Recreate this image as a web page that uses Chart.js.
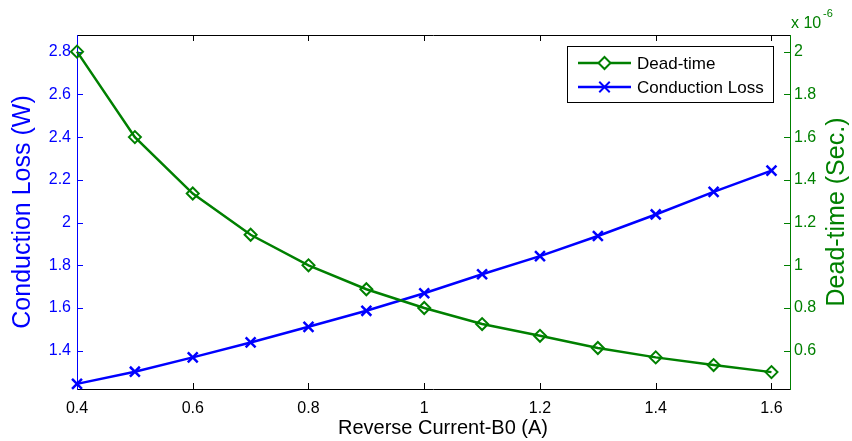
<!DOCTYPE html>
<html>
<head>
<meta charset="utf-8">
<script src="https://cdn.jsdelivr.net/npm/chart.js@4.4.0/dist/chart.umd.min.js"></script>
<style>
  html, body { margin: 0; padding: 0; background: #fff; }
  #wrap { width: 852px; height: 441px; }
</style>
</head>
<body>
<div id="wrap"><canvas id="lossChart" width="852" height="441"></canvas></div>
<script>
// values
const currents = [0.4, 0.5, 0.6, 0.7, 0.8, 0.9, 1.0, 1.1, 1.2, 1.3, 1.4, 1.5, 1.6];
const conductionLoss = [1.245, 1.302, 1.369, 1.439, 1.512, 1.587, 1.669, 1.758, 1.843, 1.937, 2.038, 2.144, 2.243];
const deadTime = [2.0, 1.6, 1.336, 1.143, 1.0, 0.888, 0.80, 0.725, 0.670, 0.613, 0.569, 0.533, 0.5]; // x 10^-6 s
const xTicks = [0.4, 0.6, 0.8, 1.0, 1.2, 1.4, 1.6];
const lossTicks = [1.4, 1.6, 1.8, 2.0, 2.2, 2.4, 2.6, 2.8];
const deadTicks = [0.6, 0.8, 1.0, 1.2, 1.4, 1.6, 1.8, 2.0];

const BLUE = "#0000ff";
const GREEN = "#008000";
const FONT = "'Liberation Sans', Arial, Helvetica, sans-serif";

const toPoints = (ys) => currents.map((x, i) => ({ x: x, y: ys[i] }));
const setTicks = (list) => (scale) => { scale.ticks = list.map((v) => ({ value: v })); };

// axis box, inward tick marks
const framePlugin = {
  id: "frame",
  beforeDatasetsDraw(chart) {
    const { ctx, chartArea: a, scales } = chart;
    ctx.save();
    ctx.lineWidth = 1;
    const tl = 6;
    ctx.strokeStyle = "#000";
    ctx.beginPath();
    ctx.moveTo(a.left, a.top + 0.5); ctx.lineTo(a.right, a.top + 0.5);
    ctx.moveTo(a.left, a.bottom + 0.5); ctx.lineTo(a.right, a.bottom + 0.5);
    scales.x.ticks.forEach((t) => {
      const px = Math.round(scales.x.getPixelForValue(t.value)) + 0.5;
      ctx.moveTo(px, a.bottom); ctx.lineTo(px, a.bottom - tl);
      ctx.moveTo(px, a.top); ctx.lineTo(px, a.top + tl);
    });
    ctx.stroke();

    ctx.strokeStyle = BLUE;
    ctx.beginPath();
    ctx.moveTo(a.left + 0.5, a.top); ctx.lineTo(a.left + 0.5, a.bottom + 1);
    scales.y.ticks.forEach((t) => {
      const py = Math.round(scales.y.getPixelForValue(t.value)) + 0.5;
      ctx.moveTo(a.left, py); ctx.lineTo(a.left + tl, py);
    });
    ctx.stroke();

    ctx.strokeStyle = GREEN;
    ctx.beginPath();
    ctx.moveTo(a.right + 0.5, a.top); ctx.lineTo(a.right + 0.5, a.bottom + 1);
    scales.y1.ticks.forEach((t) => {
      const py = Math.round(scales.y1.getPixelForValue(t.value)) + 0.5;
      ctx.moveTo(a.right, py); ctx.lineTo(a.right - tl, py);
    });
    ctx.stroke();
    ctx.restore();
  },
  afterDraw(chart) {
    const { ctx, chartArea: a } = chart;
    ctx.save();
    // x title
    ctx.fillStyle = "#000";
    ctx.font = "20px " + FONT;
    ctx.textAlign = "center";
    ctx.textBaseline = "middle";
    ctx.fillText("Reverse Current-B0 (A)", 443, 428);
    // right title, reads bottom to top
    ctx.fillStyle = GREEN;
    ctx.font = "25px " + FONT;
    ctx.translate(837, (a.top + a.bottom) / 2);
    ctx.rotate(-Math.PI / 2);
    ctx.fillText("Dead-time (Sec.)", 0, 0);
    ctx.restore();

    // exponent label
    ctx.save();
    ctx.fillStyle = GREEN;
    ctx.textBaseline = "alphabetic";
    ctx.font = "16px " + FONT;
    ctx.fillText("x 10", 791, 28);
    ctx.font = "11px " + FONT;
    ctx.fillText("-6", 823, 17);
    ctx.restore();

    // legend box
    const box = { x: 567, y: 46, w: 206, h: 56 };
    ctx.save();
    ctx.fillStyle = "#fff";
    ctx.fillRect(box.x, box.y, box.w, box.h);
    ctx.strokeStyle = "#000";
    ctx.lineWidth = 1;
    ctx.strokeRect(box.x + 0.5, box.y + 0.5, box.w, box.h);
    chart.data.datasets.forEach((ds, i) => {
      const y = 63 + i * 24;
      ctx.strokeStyle = ds.borderColor;
      ctx.lineWidth = 2.5;
      ctx.beginPath();
      ctx.moveTo(578, y); ctx.lineTo(631, y);
      ctx.stroke();
      ctx.lineWidth = 2;
      ctx.beginPath();
      const cx = 604.5, r = 6;
      if (ds.pointStyle === "rectRot") {
        ctx.fillStyle = "#fff";
        ctx.moveTo(cx, y - r); ctx.lineTo(cx + r, y); ctx.lineTo(cx, y + r); ctx.lineTo(cx - r, y); ctx.closePath();
        ctx.fill();
      } else {
        const d = r * Math.SQRT1_2 + 1;
        ctx.moveTo(cx - d, y - d); ctx.lineTo(cx + d, y + d);
        ctx.moveTo(cx - d, y + d); ctx.lineTo(cx + d, y - d);
      }
      ctx.stroke();
      ctx.fillStyle = "#000";
      ctx.font = "17px " + FONT;
      ctx.textAlign = "left";
      ctx.textBaseline = "middle";
      ctx.fillText(ds.label, 637, y + 1);
    });
    ctx.restore();
  }
};

new Chart(document.getElementById("lossChart").getContext("2d"), {
  type: "line",
  data: {
    datasets: [
      {
        label: "Dead-time",
        data: toPoints(deadTime),
        yAxisID: "y1",
        borderColor: GREEN,
        backgroundColor: "rgba(0,0,0,0)",
        borderWidth: 2.5,
        pointStyle: "rectRot",
        pointRadius: 6,
        pointBorderWidth: 2,
        pointBackgroundColor: "rgba(0,0,0,0)",
        tension: 0,
        clip: false
      },
      {
        label: "Conduction Loss",
        data: toPoints(conductionLoss),
        yAxisID: "y",
        borderColor: BLUE,
        backgroundColor: "rgba(0,0,0,0)",
        borderWidth: 2.5,
        pointStyle: "crossRot",
        pointRadius: 7,
        pointBorderWidth: 2.5,
        tension: 0,
        clip: false
      }
    ]
  },
  options: {
    responsive: false,
    animation: false,
    devicePixelRatio: 1,
    layout: { padding: { top: 35, left: 0, right: 0, bottom: 0 } },
    plugins: {
      legend: { display: false },
      tooltip: { enabled: false }
    },
    scales: {
      x: {
        type: "linear",
        min: 0.4,
        max: 1.632,
        afterBuildTicks: setTicks(xTicks),
        afterFit: (s) => { s.height = 52; },
        grid: { display: false, drawTicks: false },
        border: { display: false },
        ticks: {
          color: "#000",
          padding: 10,
          font: { family: FONT, size: 16 },
          callback: (v) => String(Math.round(v * 10) / 10)
        }
      },
      y: {
        position: "left",
        min: 1.221,
        max: 2.878,
        afterBuildTicks: setTicks(lossTicks),
        afterFit: (s) => { s.width = 77; },
        grid: { display: false, drawTicks: false },
        border: { display: false },
        ticks: {
          color: BLUE,
          padding: 6,
          font: { family: FONT, size: 16 },
          callback: (v) => String(Math.round(v * 10) / 10)
        },
        title: {
          display: true,
          text: "Conduction Loss (W)",
          color: BLUE,
          padding: { top: 8, bottom: 0 },
          font: { family: FONT, size: 25 }
        }
      },
      y1: {
        position: "right",
        min: 0.421,
        max: 2.078,
        afterBuildTicks: setTicks(deadTicks),
        afterFit: (s) => { s.width = 62; },
        grid: { display: false, drawTicks: false },
        border: { display: false },
        ticks: {
          color: GREEN,
          padding: 4,
          font: { family: FONT, size: 16 },
          callback: (v) => String(Math.round(v * 10) / 10)
        }
      }
    }
  },
  plugins: [framePlugin]
});
</script>
</body>
</html>
